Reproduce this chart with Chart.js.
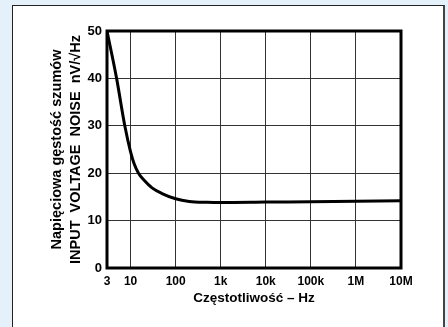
<!DOCTYPE html>
<html>
<head>
<meta charset="utf-8">
<script src="https://cdn.jsdelivr.net/npm/chart.js@4"></script>
<style>
  html, body { margin: 0; padding: 0; }
  body { width: 448px; height: 327px; background: #e4f1fb; position: relative; overflow: hidden; }
  #panel {
    position: absolute; left: 12px; top: 5px; width: 430px; height: 340px;
    background: #fff; border-left: 1px solid #222; border-top: 1px solid #222;
    border-right: 2px solid #444;
  }
  #wrap { position: absolute; left: 0; top: 0; width: 448px; height: 327px; }
</style>
</head>
<body>
<div id="panel"></div>
<div id="wrap"><canvas id="noiseChart"></canvas></div>
<script>
// frequency (Hz) and noise density (nV/rtHz)
const frequency = [3, 4.9, 7.45, 10, 12, 15, 20, 30, 50, 100, 200, 500, 1000, 10000, 100000, 1000000, 10000000];
const noise = [50, 40, 30, 24.5, 22.0, 20.0, 18.5, 16.9, 15.7, 14.6, 14.05, 13.85, 13.8, 13.9, 14.0, 14.1, 14.2];
const freqTicks = [3, 10, 100, 1000, 10000, 100000, 1000000, 10000000];
const freqTickLabels = ['3', '10', '100', '1k', '10k', '100k', '1M', '10M'];
const noiseTicks = [0, 10, 20, 30, 40, 50];

const fontFamily = 'Liberation Sans, Arial, sans-serif';

const plotFrame = {
    id: 'plotFrame',
    beforeDatasetsDraw(chart) {
        const { ctx, chartArea } = chart;
        ctx.save();
        ctx.strokeStyle = '#000';
        ctx.lineWidth = 3;
        ctx.strokeRect(chartArea.left, chartArea.top, chartArea.right - chartArea.left, chartArea.bottom - chartArea.top);
        ctx.restore();
    }
};

document.addEventListener('DOMContentLoaded', function() {
    const ctx = document.getElementById('noiseChart').getContext('2d');
    new Chart(ctx, {
        type: 'line',
        data: {
            datasets: [{
                data: frequency.map((f, i) => ({ x: f, y: noise[i] })),
                borderColor: '#000',
                borderWidth: 3,
                pointRadius: 0,
                fill: false,
                cubicInterpolationMode: 'monotone'
            }]
        },
        options: {
            responsive: true,
            maintainAspectRatio: false,
            animation: false,
            layout: { padding: { left: 0, right: 47, top: 31, bottom: 10 } },
            plugins: {
                legend: { display: false },
                tooltip: { enabled: false }
            },
            scales: {
                x: {
                    type: 'logarithmic',
                    min: 3,
                    max: 10000000,
                    afterBuildTicks: function(scale) {
                        scale.ticks = freqTicks.map(v => ({ value: v }));
                    },
                    afterFit: function(scale) { scale.height = 49; },
                    border: { display: false },
                    grid: { color: '#333', lineWidth: 1, drawTicks: false },
                    ticks: {
                        color: '#000',
                        font: { family: fontFamily, size: 12, weight: 'bold' },
                        padding: 6,
                        maxRotation: 0,
                        autoSkip: false,
                        callback: function(value) {
                            const i = freqTicks.indexOf(value);
                            return i >= 0 ? freqTickLabels[i] : '';
                        }
                    },
                    title: {
                        display: true,
                        text: 'Częstotliwość – Hz',
                        color: '#000',
                        font: { family: fontFamily, size: 13.5, weight: 'bold' },
                        padding: { top: 0, bottom: 11 }
                    }
                },
                y: {
                    min: 0,
                    max: 50,
                    afterBuildTicks: function(scale) {
                        scale.ticks = noiseTicks.map(v => ({ value: v }));
                    },
                    afterFit: function(scale) { scale.width = 107; },
                    border: { display: false },
                    grid: { color: '#333', lineWidth: 1, drawTicks: false },
                    ticks: {
                        color: '#000',
                        font: { family: fontFamily, size: 13, weight: 'bold' },
                        padding: 5
                    },
                    title: {
                        display: true,
                        text: ['Napięciowa gęstość szumów', 'INPUT  VOLTAGE  NOISE  nV/√Hz'],
                        color: '#000',
                        font: { family: fontFamily, size: 14.5, weight: 'bold', lineHeight: 1.3 },
                        padding: { top: 47.5, bottom: 0 }
                    }
                }
            }
        },
        plugins: [plotFrame]
    });
});
</script>
</body>
</html>
